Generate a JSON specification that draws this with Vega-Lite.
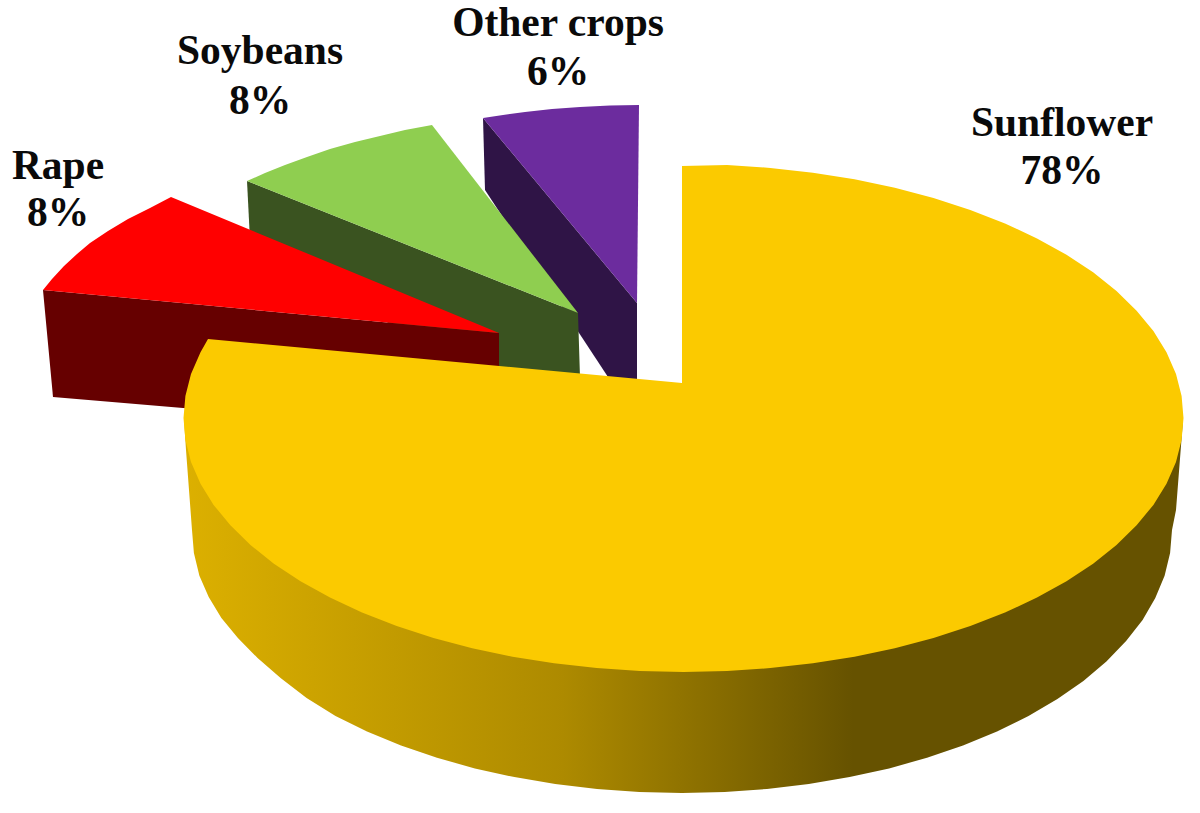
{"$schema":"https://vega.github.io/schema/vega-lite/v6.json","width":1200,"height":813,"autosize":{"type":"fit","contains":"padding"},"padding":0,"background":"white","config":{"view":{"stroke":null}},
"datasets":{
"labels":[
{"crop":"Sunflower","share":0.78,"x":1062,"yName":124,"yShare":172},
{"crop":"Rape","share":0.08,"x":58,"yName":167,"yShare":214},
{"crop":"Soybeans","share":0.08,"x":260,"yName":52,"yShare":102},
{"crop":"Other crops","share":0.06,"x":558,"yName":24,"yShare":73}],
"back":[
{"part":"Other crops side","n":1,"x":483,"y":118},{"part":"Other crops side","n":2,"x":637,"y":303},{"part":"Other crops side","n":3,"x":637,"y":380},{"part":"Other crops side","n":4,"x":608,"y":377},{"part":"Other crops side","n":5,"x":485,"y":190},
{"part":"Other crops top","n":1,"x":483,"y":118},{"part":"Other crops top","n":2,"x":503,"y":115},{"part":"Other crops top","n":3,"x":525,"y":112},{"part":"Other crops top","n":4,"x":552,"y":109},{"part":"Other crops top","n":5,"x":580,"y":107},{"part":"Other crops top","n":6,"x":610,"y":105.5},{"part":"Other crops top","n":7,"x":639,"y":105},{"part":"Other crops top","n":8,"x":637,"y":303},
{"part":"Soybeans side","n":1,"x":247,"y":181},{"part":"Soybeans side","n":2,"x":578,"y":313},{"part":"Soybeans side","n":3,"x":580,"y":378},{"part":"Soybeans side","n":4,"x":480,"y":378},{"part":"Soybeans side","n":5,"x":250,"y":240},
{"part":"Soybeans top","n":1,"x":247,"y":181},{"part":"Soybeans top","n":2,"x":265,"y":173},{"part":"Soybeans top","n":3,"x":285,"y":165},{"part":"Soybeans top","n":4,"x":307,"y":157},{"part":"Soybeans top","n":5,"x":330,"y":149},{"part":"Soybeans top","n":6,"x":355,"y":142},{"part":"Soybeans top","n":7,"x":380,"y":136},{"part":"Soybeans top","n":8,"x":405,"y":130},{"part":"Soybeans top","n":9,"x":432,"y":125},{"part":"Soybeans top","n":10,"x":578,"y":313},
{"part":"Rape side","n":1,"x":43,"y":290},{"part":"Rape side","n":2,"x":499,"y":333},{"part":"Rape side","n":3,"x":499,"y":370},{"part":"Rape side","n":4,"x":250,"y":412},{"part":"Rape side","n":5,"x":183,"y":408},{"part":"Rape side","n":6,"x":53,"y":397},
{"part":"Rape top","n":1,"x":43,"y":290},{"part":"Rape top","n":2,"x":52,"y":279},{"part":"Rape top","n":3,"x":64,"y":266},{"part":"Rape top","n":4,"x":77,"y":254},{"part":"Rape top","n":5,"x":90,"y":243},{"part":"Rape top","n":6,"x":108,"y":231},{"part":"Rape top","n":7,"x":128,"y":219},{"part":"Rape top","n":8,"x":150,"y":208},{"part":"Rape top","n":9,"x":171,"y":197},{"part":"Rape top","n":10,"x":499,"y":333}],
"side":[
{"n":1,"x":1183,"y":420},{"n":2,"x":1176,"y":510},{"n":3,"x":1172,"y":530},{"n":4,"x":1170.1,"y":552.9},{"n":5,"x":1164.6,"y":575.7},{"n":6,"x":1155.3,"y":598.1},{"n":7,"x":1142.6,"y":620},{"n":8,"x":1126.1,"y":641.1},{"n":9,"x":1106.4,"y":661.5},{"n":10,"x":1083.4,"y":680.9},{"n":11,"x":1057.4,"y":699.1},{"n":12,"x":1028.5,"y":716},{"n":13,"x":997,"y":731.5},{"n":14,"x":963,"y":745.4},{"n":15,"x":927,"y":757.8},{"n":16,"x":889.1,"y":768.4},{"n":17,"x":849.6,"y":777.1},{"n":18,"x":808.8,"y":784},{"n":19,"x":767,"y":789},{"n":20,"x":724.7,"y":792},{"n":21,"x":682,"y":793},{"n":22,"x":639.3,"y":792},{"n":23,"x":597,"y":789},{"n":24,"x":555.2,"y":784},{"n":25,"x":514.4,"y":777.1},{"n":26,"x":474.9,"y":768.4},{"n":27,"x":437,"y":757.8},{"n":28,"x":401,"y":745.4},{"n":29,"x":367,"y":731.5},{"n":30,"x":335.5,"y":716},{"n":31,"x":306.6,"y":698},{"n":32,"x":280.6,"y":678},{"n":33,"x":257.6,"y":658},{"n":34,"x":237.9,"y":638},{"n":35,"x":221.4,"y":618},{"n":36,"x":208.7,"y":597},{"n":37,"x":199.4,"y":575.7},{"n":38,"x":193.9,"y":552.9},{"n":39,"x":192,"y":530},{"n":40,"x":186,"y":450},{"n":41,"x":184,"y":420}],
"top":[
{"n":1,"x":682,"y":166},{"n":2,"x":727.1,"y":165},{"n":3,"x":770.3,"y":167.9},{"n":4,"x":812.9,"y":172.7},{"n":5,"x":854.5,"y":179.3},{"n":6,"x":894.8,"y":187.8},{"n":7,"x":933.5,"y":198},{"n":8,"x":970.3,"y":209.9},{"n":9,"x":1005,"y":223.4},{"n":10,"x":1037,"y":238.4},{"n":11,"x":1066.5,"y":254.7},{"n":12,"x":1093.1,"y":272.3},{"n":13,"x":1116.5,"y":291},{"n":14,"x":1136.6,"y":310.7},{"n":15,"x":1153.4,"y":331.1},{"n":16,"x":1166.5,"y":352.3},{"n":17,"x":1176,"y":373.9},{"n":18,"x":1181.6,"y":395.9},{"n":19,"x":1183.5,"y":418},{"n":20,"x":1181.6,"y":440.1},{"n":21,"x":1176,"y":462.1},{"n":22,"x":1166.5,"y":483.7},{"n":23,"x":1153.4,"y":504.9},{"n":24,"x":1136.6,"y":525.3},{"n":25,"x":1116.5,"y":545},{"n":26,"x":1093.1,"y":563.7},{"n":27,"x":1066.5,"y":581.3},{"n":28,"x":1037,"y":597.6},{"n":29,"x":1005,"y":612.6},{"n":30,"x":970.3,"y":626.1},{"n":31,"x":933.5,"y":638},{"n":32,"x":894.8,"y":648.2},{"n":33,"x":854.5,"y":656.7},{"n":34,"x":812.9,"y":663.3},{"n":35,"x":770.3,"y":668.1},{"n":36,"x":727.1,"y":671},{"n":37,"x":683.5,"y":672},{"n":38,"x":639.9,"y":671},{"n":39,"x":596.7,"y":668.1},{"n":40,"x":554.1,"y":663.3},{"n":41,"x":512.5,"y":656.7},{"n":42,"x":472.2,"y":648.2},{"n":43,"x":433.5,"y":638},{"n":44,"x":396.7,"y":626.1},{"n":45,"x":362,"y":612.6},{"n":46,"x":330,"y":597.6},{"n":47,"x":300.5,"y":581.3},{"n":48,"x":273.9,"y":563.7},{"n":49,"x":250.5,"y":545},{"n":50,"x":230.4,"y":525.3},{"n":51,"x":213.6,"y":504.9},{"n":52,"x":200.5,"y":483.7},{"n":53,"x":191,"y":462.1},{"n":54,"x":185.4,"y":440.1},{"n":55,"x":183.5,"y":418},{"n":56,"x":185.4,"y":395.9},{"n":57,"x":191,"y":373.9},{"n":58,"x":200.5,"y":352.2},{"n":59,"x":208,"y":339},{"n":60,"x":682,"y":383}]
},
"encoding":{
"x":{"field":"x","type":"quantitative","scale":{"domain":[0,1200],"nice":false,"zero":false},"axis":null},
"y":{"field":"y","type":"quantitative","scale":{"domain":[813,0],"nice":false,"zero":false},"axis":null}},
"layer":[
{"data":{"name":"back"},"mark":{"type":"line","stroke":"transparent"},"encoding":{"order":{"field":"n","type":"quantitative"},"fill":{"field":"part","type":"nominal","legend":null,"scale":{"domain":["Other crops side","Other crops top","Soybeans side","Soybeans top","Rape side","Rape top"],"range":["#2f1446","#6c2c9e","#3a5320","#8fce50","#660000","#ff0000"]}}}},
{"data":{"name":"side"},"mark":{"type":"line","stroke":"transparent","fill":{"gradient":"linear","x1":0,"x2":1,"y1":0,"y2":0,"stops":[{"offset":0,"color":"#dcb000"},{"offset":0.38,"color":"#ad8a00"},{"offset":0.67,"color":"#665200"},{"offset":1,"color":"#665200"}]}},"encoding":{"order":{"field":"n","type":"quantitative"}}},
{"data":{"name":"top"},"mark":{"type":"line","stroke":"transparent","fill":"#fbca00"},"encoding":{"order":{"field":"n","type":"quantitative"}}},
{"data":{"name":"labels"},"mark":{"type":"text","font":"Liberation Serif","fontWeight":"bold","fontSize":41.5,"color":"#0a0a0a","align":"center","baseline":"middle"},"encoding":{"y":{"field":"yName","type":"quantitative"},"text":{"field":"crop","type":"nominal"}}},
{"data":{"name":"labels"},"mark":{"type":"text","font":"Liberation Serif","fontWeight":"bold","fontSize":41.5,"color":"#0a0a0a","align":"center","baseline":"middle"},"encoding":{"y":{"field":"yShare","type":"quantitative"},"text":{"field":"share","type":"quantitative","format":".0%"}}}
]}
